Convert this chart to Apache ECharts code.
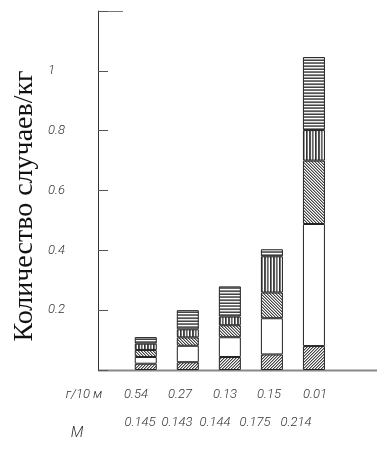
<!DOCTYPE html>
<html>
<head>
<meta charset="utf-8">
<script src="https://cdn.jsdelivr.net/npm/echarts@6/dist/echarts.min.js"></script>
<style>html,body{margin:0;padding:0;background:#fff}#c{width:377px;height:452px}</style>
</head>
<body>
<div id="c"></div>
<script>
// ---- data ----
var categories = ['', 'A', 'B', 'C', 'D', 'E', ''];
var segSlash = [null, 0.021, 0.026, 0.0435, 0.052, 0.080, null];
var segWhite = [null, 0.0225, 0.055, 0.066, 0.121, 0.408, null];
var segBack  = [null, 0.0235, 0.028, 0.040, 0.086, 0.212, null];
var segVert  = [null, 0.021, 0.027, 0.029, 0.121, 0.102, null];
var segHoriz = [null, 0.022, 0.064, 0.101, 0.0235, 0.244, null];
var row1Label = 'г/10 м';
var row1Values = ['0.54', '0.27', '0.13', '0.15', '0.01'];
var row2Label = 'М';
var row2Values = ['0.145', '0.143', '0.144', '0.175', '0.214'];
var yTitle = 'Количество случаев/кг';

// ---- patterns ----
function pat(w, h, draw) {
  var c = document.createElement('canvas');
  c.width = w; c.height = h;
  var g = c.getContext('2d');
  g.fillStyle = '#fff'; g.fillRect(0, 0, w, h);
  draw(g);
  return { image: c, repeat: 'repeat' };
}
function px(g, col, x, y) { g.fillStyle = col; g.fillRect(x, y, 1, 1); }
var pSlash = pat(3, 3, function (g) {
  px(g, '#444', 0, 2); px(g, '#444', 1, 1); px(g, '#444', 2, 0);
  px(g, '#aaa', 1, 2); px(g, '#aaa', 2, 1); px(g, '#aaa', 0, 0);
});
var pBack = pat(3, 3, function (g) {
  px(g, '#444', 0, 0); px(g, '#444', 1, 1); px(g, '#444', 2, 2);
  px(g, '#aaa', 1, 0); px(g, '#aaa', 2, 1); px(g, '#aaa', 0, 2);
});
var pVert = pat(9, 1, function (g) {
  var cols = ['#333', '#777', '#fff', '#444', '#555', '#eee', '#666', '#999', '#fff'];
  cols.forEach(function (col, i) { px(g, col, i, 0); });
});
var pHoriz = pat(1, 9, function (g) {
  var cols = ['#666', '#fff', '#888', '#555', '#eee', '#999', '#444', '#fff', '#777'];
  cols.forEach(function (col, i) { px(g, col, 0, i); });
});

function mk(vals, color) {
  return {
    type: 'bar', stack: 's', barWidth: 22,
    data: vals,
    itemStyle: { color: color, borderColor: '#222', borderWidth: 1 },
    emphasis: { disabled: true },
    animation: false
  };
}

var txt = function (t, x, y, size) {
  return { type: 'text', x: x, y: y, silent: true,
    style: { text: t, textAlign: 'center', textVerticalAlign: 'middle', font: 'italic 300 ' + size + 'px Roboto', fill: '#333' } };
};
var graphics = [];
graphics.push({ type: 'text', x: 25, y: 206, rotation: Math.PI / 2, silent: true,
  style: { text: yTitle, font: '28px "Liberation Serif"', fill: '#111', textAlign: 'center', textVerticalAlign: 'middle' } });
graphics.push({ type: 'line', silent: true, shape: { x1: 98, y1: 11.5, x2: 123, y2: 11.5 }, style: { stroke: '#777', lineWidth: 1 } });
graphics.push({ type: 'line', silent: true, shape: { x1: 98, y1: 370.5, x2: 377, y2: 370.5 }, style: { stroke: '#888', lineWidth: 2 } });
var r1x = [136, 180, 225, 269, 315];
var r2x = [140, 177, 215, 255, 296];
graphics.push(txt(row1Label, 84, 395, 13));
graphics.push(txt(row2Label, 77, 433, 15));
row1Values.forEach(function (t, i) { graphics.push(txt(t, r1x[i], 395, 13)); });
row2Values.forEach(function (t, i) { graphics.push(txt(t, r2x[i], 423, 13)); });

var chart = echarts.init(document.getElementById('c'), null, { renderer: 'canvas' });
chart.setOption({
  animation: false,
  backgroundColor: '#fff',
  grid: { left: 82.7, right: -13.7, top: 11, bottom: 82 },
  xAxis: {
    type: 'category', data: categories,
    axisLine: { show: false },
    axisTick: { show: false }, axisLabel: { show: false }, splitLine: { show: false }
  },
  yAxis: {
    type: 'value', min: 0, max: 1.2, interval: 0.2, offset: -15.3,
    axisLine: { show: true, lineStyle: { color: '#333', width: 1 } },
    axisTick: { show: true, inside: true, length: 10, lineStyle: { color: '#555' } },
    splitLine: { show: false },
    axisLabel: {
      margin: 50, align: 'left',
      fontFamily: 'Roboto', fontStyle: 'italic', fontWeight: 300, fontSize: 13, color: '#333',
      formatter: function (v) { if (v < 0.01 || v > 1.1) return ''; return v === 1 ? '1' : v.toFixed(1); }
    }
  },
  series: [mk(segSlash, pSlash), mk(segWhite, '#fff'), mk(segBack, pBack), mk(segVert, pVert), mk(segHoriz, pHoriz)],
  graphic: graphics
});
</script>
</body>
</html>
